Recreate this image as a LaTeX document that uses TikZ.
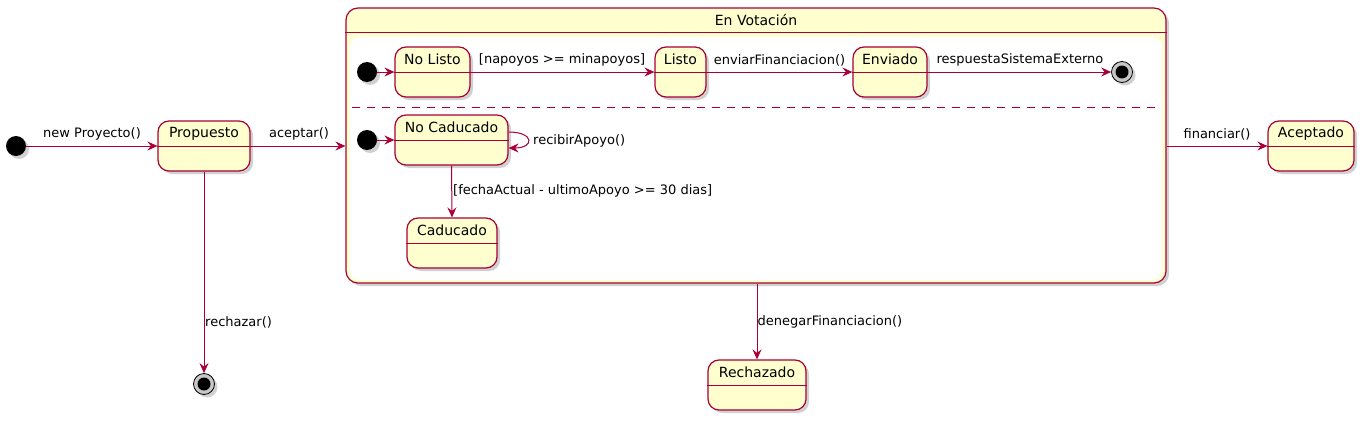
\documentclass[tikz,border=0pt]{standalone}
\usepackage{fontspec}
\setmainfont{DejaVu Sans}
\usetikzlibrary{shadows,arrows.meta}
\definecolor{pumlred}{HTML}{A80036}
\definecolor{pumlyel}{HTML}{FEFECE}
\tikzset{
  shd/.style={drop shadow={shadow xshift=3pt,shadow yshift=-3pt,opacity=0.3,fill=black!60}},
  st/.style={draw=pumlred,line width=1.2pt,fill=pumlyel,rounded corners=11pt,inner sep=0pt,minimum height=50pt,shd},
  sep/.style={draw=pumlred,line width=1pt},
  nm/.style={font=\fontsize{14}{16}\selectfont,inner sep=0pt},
  lbl/.style={font=\fontsize{13}{15}\selectfont,inner sep=0pt},
  arr/.style={draw=pumlred,line width=1pt,-{Stealth[length=10pt,width=9pt,inset=3.5pt]}},
  ini/.style={circle,fill=black,inner sep=0pt,minimum size=20pt,shd},
  fin/.style={circle,draw=black,line width=0.8pt,fill=black!22,inner sep=0pt,minimum size=21pt,shd},
}
\newcommand\mystate[5]{% name, x, y, width, text
  \node[st,minimum width=#4pt] (#1) at (#2,#3) {};
  \draw[sep] (#1.west) -- (#1.east);
  \node[nm] at ([yshift=12.5pt]#1.center) {#5};
}
\begin{document}
\begin{tikzpicture}[x=1pt,y=-1pt]
\useasboundingbox (0,0) rectangle (1364,420);
% composite
\node[draw=pumlred,line width=1.2pt,fill=pumlyel,rounded corners=12pt,minimum width=820pt,minimum height=275pt,inner sep=0pt,shd] (vot) at (756,145.5) {};
\fill[white,rounded corners=10pt] (350,37) rectangle (1162,280);
\draw[sep] (vot.west |- 0,33) -- (vot.east |- 0,33);
\node[nm] (vottitle) at (756,20.5) {En Votación};
\draw[pumlred,line width=1pt,dash pattern=on 8pt off 7pt] (352,107) -- (1156,107);
% outer states
\node[ini] (i0) at (16,146) {};
\mystate{prop}{204}{146}{92}{Propuesto}
\mystate{acep}{1311}{146}{86}{Aceptado}
\mystate{rech}{757}{385}{98}{Rechazado}
\node[fin] (f0) at (204,384) {};
\fill[black] (f0) circle (6.5pt);
% region 1
\node[ini] (i1) at (367,72) {};
\mystate{nolisto}{432.5}{72}{75}{No Listo}
\mystate{listo}{680.5}{72}{51}{Listo}
\mystate{enviado}{890}{72}{74}{Enviado}
\node[fin] (f1) at (1122,72) {};
\fill[black] (f1) circle (6.5pt);
% region 2
\node[ini] (i2) at (367,140) {};
\mystate{nocad}{451.5}{140}{113}{No Caducado}
\mystate{cad}{452}{243}{90}{Caducado}
% transitions
\draw[arr] (i0) -- (prop.west);
\node[lbl] at (92,134) {new Proyecto()};
\draw[arr] (prop.east) -- (vot.west |- prop.east);
\node[lbl] at (299,134) {aceptar()};
\draw[arr] (prop.south) -- (f0);
\node[lbl,anchor=west] at (205,322) {rechazar()};
\draw[arr] (vot.east |- acep.west) -- (acep.west);
\node[lbl] at (1217,134) {financiar()};
\draw[arr] (vot.south -| rech.north) -- (rech.north);
\node[lbl,anchor=west] at (757.5,322) {denegarFinanciacion()};
\draw[arr] (i1) -- (nolisto.west);
\draw[arr] (nolisto.east) -- (listo.west);
\node[lbl] at (562,60) {[napoyos >= minapoyos]};
\draw[arr] (listo.east) -- (enviado.west);
\node[lbl] at (779.5,60) {enviarFinanciacion()};
\draw[arr] (enviado.east) -- (f1);
\node[lbl] at (1020,60) {respuestaSistemaExterno};
\draw[arr] (i2) -- (nocad.west);
\draw[arr] ([yshift=8pt]nocad.east) .. controls +(26,0) and +(26,0) .. ([yshift=-8pt]nocad.east);
\node[lbl,anchor=west] at (533,140.5) {recibirApoyo()};
\draw[arr] (nocad.south) -- (cad.north);
\node[lbl,anchor=west] at (453,191) {[fechaActual - ultimoApoyo >= 30 dias]};
\end{tikzpicture}
\end{document}
